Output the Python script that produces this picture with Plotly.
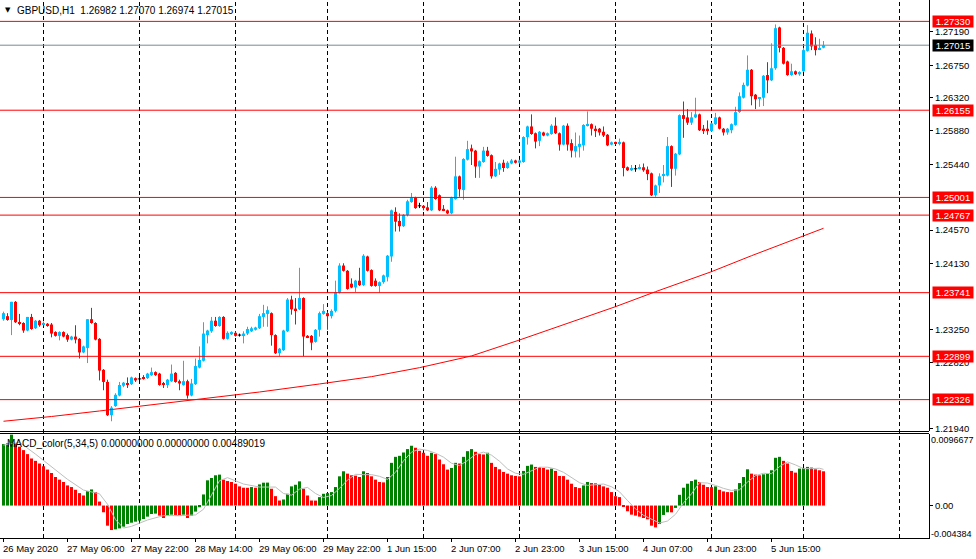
import plotly.graph_objects as go

# ---------------- data (H1 bars, index 0 = 26 May 2020 14:00) ----------------
open_ = [
1.2339, 1.2343, 1.2338, 1.2362, 1.2335, 1.2334, 1.2324, 1.2342, 1.2327, 1.2337,
1.2332, 1.2333, 1.2332, 1.2322, 1.2317, 1.2322, 1.2318, 1.2312, 1.2316, 1.2313,
1.2295, 1.2301, 1.2339, 1.2334, 1.2313, 1.2272, 1.2256, 1.2212, 1.2224, 1.2238,
1.2251, 1.2254, 1.2253, 1.2261, 1.2260, 1.2262, 1.2261, 1.2265, 1.2269, 1.2267,
1.2254, 1.2252, 1.2257, 1.2268, 1.2257, 1.2252, 1.2257, 1.2238, 1.2253, 1.2275,
1.2284, 1.2318, 1.2323, 1.2337, 1.2330, 1.2342, 1.2313, 1.2319, 1.2321, 1.2318,
1.2318, 1.2320, 1.2323, 1.2325, 1.2327, 1.2342, 1.2346, 1.2347, 1.2318, 1.2294,
1.2298, 1.2323, 1.2365, 1.2353, 1.2352, 1.2367, 1.2317, 1.2317, 1.2309, 1.2325,
1.2346, 1.2347, 1.2343, 1.2350, 1.2374, 1.2410, 1.2403, 1.2386, 1.2381, 1.2390,
1.2384, 1.2422, 1.2404, 1.2390, 1.2383, 1.2388, 1.2395, 1.2422, 1.2481, 1.2469,
1.2462, 1.2477, 1.2494, 1.2500, 1.2489, 1.2489, 1.2487, 1.2483, 1.2513, 1.2503,
1.2485, 1.2483, 1.2479, 1.2498, 1.2528, 1.2510, 1.2550, 1.2565, 1.2562, 1.2541,
1.2547, 1.2562, 1.2556, 1.2528, 1.2537, 1.2546, 1.2539, 1.2545, 1.2549, 1.2546,
1.2547, 1.2580, 1.2594, 1.2585, 1.2575, 1.2586, 1.2582, 1.2584, 1.2595, 1.2585,
1.2570, 1.2595, 1.2572, 1.2561, 1.2567, 1.2569, 1.2595, 1.2597, 1.2591, 1.2591,
1.2587, 1.2583, 1.2570, 1.2573, 1.2571, 1.2573, 1.2540, 1.2536, 1.2538, 1.2538,
1.2540, 1.2537, 1.2532, 1.2503, 1.2516, 1.2529, 1.2529, 1.2568, 1.2538, 1.2557,
1.2609, 1.2606, 1.2599, 1.2606, 1.2610, 1.2591, 1.2591, 1.2588, 1.2597, 1.2606,
1.2591, 1.2586, 1.2589, 1.2596, 1.2613, 1.2632, 1.2648, 1.2669, 1.2636, 1.2631,
1.2632, 1.2662, 1.2655, 1.2671, 1.2725, 1.2698, 1.2680, 1.2662, 1.2667, 1.2663,
1.2667, 1.2694, 1.2717, 1.2702, 1.2696, 1.26982]

high = [
1.2349, 1.2347, 1.2362, 1.2363, 1.2346, 1.2335, 1.2342, 1.2346, 1.2338, 1.2338,
1.2336, 1.2334, 1.2334, 1.2323, 1.2323, 1.2323, 1.2320, 1.2317, 1.2331, 1.2314,
1.2304, 1.2339, 1.2354, 1.2335, 1.2314, 1.2273, 1.2259, 1.2224, 1.2241, 1.2256,
1.2256, 1.2262, 1.2263, 1.2262, 1.2263, 1.2265, 1.2268, 1.2275, 1.2270, 1.2268,
1.2256, 1.2260, 1.2279, 1.2269, 1.2259, 1.2284, 1.2259, 1.2260, 1.2287, 1.2303,
1.2335, 1.2325, 1.2342, 1.2342, 1.2343, 1.2343, 1.2323, 1.2323, 1.2323, 1.2320,
1.2323, 1.2329, 1.2329, 1.2329, 1.2346, 1.2358, 1.2356, 1.2348, 1.2319, 1.2301,
1.2325, 1.2367, 1.2370, 1.2367, 1.2407, 1.2368, 1.2318, 1.2318, 1.2326, 1.2349,
1.2359, 1.2349, 1.2352, 1.2390, 1.2413, 1.2413, 1.2404, 1.2393, 1.2391, 1.2407,
1.2425, 1.2423, 1.2405, 1.2393, 1.2389, 1.2398, 1.2424, 1.2484, 1.2487, 1.2479,
1.2478, 1.2497, 1.2506, 1.2501, 1.2493, 1.2490, 1.2494, 1.2515, 1.2515, 1.2504,
1.2490, 1.2484, 1.2501, 1.2554, 1.2529, 1.2552, 1.2575, 1.2570, 1.2563, 1.2549,
1.2567, 1.2567, 1.2557, 1.2547, 1.2546, 1.2550, 1.2548, 1.2551, 1.2550, 1.2550,
1.2581, 1.2595, 1.2610, 1.2586, 1.2588, 1.2587, 1.2586, 1.2597, 1.2606, 1.2586,
1.2596, 1.2598, 1.2577, 1.2586, 1.2582, 1.2597, 1.2614, 1.2598, 1.2595, 1.2592,
1.2594, 1.2584, 1.2574, 1.2574, 1.2578, 1.2574, 1.2541, 1.2543, 1.2543, 1.2544,
1.2545, 1.2541, 1.2533, 1.2517, 1.2532, 1.2543, 1.2580, 1.2569, 1.2559, 1.2610,
1.2627, 1.2617, 1.2613, 1.2632, 1.2611, 1.2596, 1.2602, 1.2599, 1.2612, 1.2607,
1.2592, 1.2592, 1.2598, 1.2620, 1.2639, 1.2652, 1.2688, 1.2670, 1.2637, 1.2633,
1.2662, 1.2679, 1.2704, 1.2729, 1.2726, 1.2699, 1.2681, 1.2677, 1.2668, 1.2667,
1.2698, 1.2728, 1.2721, 1.2712, 1.2710, 1.27070]

low = [
1.2337, 1.2337, 1.2318, 1.2334, 1.2331, 1.2321, 1.2323, 1.2325, 1.2326, 1.2329,
1.2331, 1.2329, 1.2315, 1.2316, 1.2311, 1.2315, 1.2309, 1.2311, 1.2307, 1.2287,
1.2294, 1.2281, 1.2333, 1.2311, 1.2258, 1.2245, 1.2211, 1.2204, 1.2223, 1.2237,
1.2249, 1.2248, 1.2252, 1.2256, 1.2258, 1.2259, 1.2260, 1.2264, 1.2264, 1.2251,
1.2248, 1.2248, 1.2256, 1.2255, 1.2245, 1.2251, 1.2234, 1.2237, 1.2252, 1.2274,
1.2283, 1.2307, 1.2321, 1.2329, 1.2329, 1.2312, 1.2312, 1.2318, 1.2316, 1.2316,
1.2307, 1.2318, 1.2322, 1.2324, 1.2326, 1.2329, 1.2329, 1.2304, 1.2293, 1.2290,
1.2297, 1.2322, 1.2345, 1.2332, 1.2351, 1.2290, 1.2314, 1.2298, 1.2308, 1.2316,
1.2345, 1.2325, 1.2340, 1.2348, 1.2373, 1.2402, 1.2378, 1.2380, 1.2375, 1.2383,
1.2383, 1.2402, 1.2382, 1.2382, 1.2374, 1.2386, 1.2389, 1.2415, 1.2455, 1.2455,
1.2461, 1.2475, 1.2493, 1.2485, 1.2486, 1.2483, 1.2482, 1.2482, 1.2497, 1.2482,
1.2482, 1.2478, 1.2478, 1.2497, 1.2501, 1.2497, 1.2549, 1.2543, 1.2526, 1.2526,
1.2546, 1.2554, 1.2525, 1.2527, 1.2530, 1.2534, 1.2538, 1.2544, 1.2545, 1.2545,
1.2546, 1.2570, 1.2583, 1.2565, 1.2568, 1.2581, 1.2581, 1.2583, 1.2584, 1.2562,
1.2569, 1.2562, 1.2553, 1.2553, 1.2553, 1.2562, 1.2594, 1.2582, 1.2580, 1.2582,
1.2580, 1.2568, 1.2569, 1.2570, 1.2569, 1.2528, 1.2535, 1.2535, 1.2534, 1.2537,
1.2534, 1.2523, 1.2502, 1.2501, 1.2506, 1.2520, 1.2528, 1.2514, 1.2529, 1.2556,
1.2579, 1.2596, 1.2596, 1.2605, 1.2588, 1.2584, 1.2583, 1.2587, 1.2596, 1.2590,
1.2582, 1.2583, 1.2585, 1.2595, 1.2612, 1.2631, 1.2647, 1.2622, 1.2617, 1.2620,
1.2621, 1.2638, 1.2654, 1.2669, 1.2692, 1.2676, 1.2661, 1.2661, 1.2662, 1.2661,
1.2666, 1.2693, 1.2695, 1.2688, 1.2695, 1.26974]

close = [
1.2347, 1.2338, 1.2362, 1.2335, 1.2333, 1.2324, 1.2342, 1.2326, 1.2337, 1.2331,
1.2333, 1.2331, 1.2320, 1.2317, 1.2322, 1.2316, 1.2312, 1.2316, 1.2312, 1.2295,
1.2303, 1.2339, 1.2334, 1.2312, 1.2271, 1.2256, 1.2212, 1.2222, 1.2239, 1.2252,
1.2255, 1.2253, 1.2262, 1.2258, 1.2260, 1.2261, 1.2267, 1.2269, 1.2265, 1.2252,
1.2253, 1.2259, 1.2267, 1.2256, 1.2254, 1.2257, 1.2238, 1.2254, 1.2277, 1.2285,
1.2320, 1.2324, 1.2337, 1.2330, 1.2342, 1.2313, 1.2321, 1.2322, 1.2317, 1.2318,
1.2320, 1.2326, 1.2327, 1.2328, 1.2343, 1.2347, 1.2351, 1.2318, 1.2294, 1.2300,
1.2324, 1.2365, 1.2352, 1.2351, 1.2367, 1.2316, 1.2315, 1.2308, 1.2325, 1.2347,
1.2350, 1.2343, 1.2350, 1.2375, 1.2410, 1.2403, 1.2379, 1.2381, 1.2390, 1.2384,
1.2423, 1.2403, 1.2383, 1.2383, 1.2388, 1.2397, 1.2423, 1.2483, 1.2468, 1.2462,
1.2477, 1.2495, 1.2500, 1.2486, 1.2489, 1.2486, 1.2483, 1.2513, 1.2498, 1.2483,
1.2483, 1.2479, 1.2500, 1.2528, 1.2511, 1.2551, 1.2564, 1.2561, 1.2541, 1.2548,
1.2562, 1.2555, 1.2528, 1.2538, 1.2545, 1.2539, 1.2546, 1.2549, 1.2546, 1.2549,
1.2580, 1.2594, 1.2584, 1.2574, 1.2587, 1.2582, 1.2585, 1.2595, 1.2585, 1.2570,
1.2595, 1.2570, 1.2562, 1.2568, 1.2571, 1.2596, 1.2597, 1.2591, 1.2589, 1.2586,
1.2582, 1.2569, 1.2573, 1.2571, 1.2573, 1.2539, 1.2536, 1.2539, 1.2538, 1.2540,
1.2536, 1.2531, 1.2503, 1.2516, 1.2528, 1.2531, 1.2568, 1.2538, 1.2558, 1.2609,
1.2604, 1.2599, 1.2606, 1.2610, 1.2589, 1.2588, 1.2588, 1.2598, 1.2606, 1.2591,
1.2586, 1.2591, 1.2597, 1.2613, 1.2634, 1.2649, 1.2669, 1.2634, 1.2630, 1.2632,
1.2661, 1.2655, 1.2671, 1.2724, 1.2698, 1.2677, 1.2662, 1.2667, 1.2663, 1.2666,
1.2695, 1.2718, 1.2700, 1.2695, 1.2698, 1.27015]

# moving average (red curve), read at selected bars
ma_bars = [0, 12, 24, 36, 48, 64, 79, 92, 104, 117, 129, 142, 153, 163, 177, 187, 200, 205]
ma_values = [1.22040, 1.22103, 1.22176, 1.22249, 1.22326, 1.22427, 1.22533, 1.22630, 1.22749,
             1.22904, 1.23115, 1.23357, 1.23556, 1.23754, 1.24019, 1.24230, 1.24495, 1.24593]

# MACD_color(5,34,5) histogram, one value per bar
macd = [
0.00831, 0.00840, 0.00958, 0.00840, 0.00795, 0.00749, 0.00695, 0.00636, 0.00604, 0.00568,
0.00531, 0.00486, 0.00440, 0.00386, 0.00350, 0.00318, 0.00272, 0.00250, 0.00213, 0.00168,
0.00136, 0.00195, 0.00218, 0.00182, 0.00054, -0.00091, -0.00272, -0.00331, -0.00322, -0.00309,
-0.00286, -0.00250, -0.00232, -0.00218, -0.00204, -0.00182, -0.00150, -0.00114, -0.00109, -0.00136,
-0.00168, -0.00136, -0.00123, -0.00127, -0.00128, -0.00123, -0.00168, -0.00136, -0.00082, -0.00023,
0.00150, 0.00341, 0.00372, 0.00409, 0.00418, 0.00350, 0.00331, 0.00318, 0.00295, 0.00259,
0.00241, 0.00240, 0.00250, 0.00241, 0.00286, 0.00309, 0.00310, 0.00227, 0.00127, 0.00068,
0.00082, 0.00159, 0.00259, 0.00281, 0.00327, 0.00227, 0.00136, 0.00068, 0.00067, 0.00114,
0.00159, 0.00168, 0.00182, 0.00250, 0.00395, 0.00463, 0.00431, 0.00409, 0.00404, 0.00386,
0.00463, 0.00440, 0.00395, 0.00350, 0.00318, 0.00313, 0.00386, 0.00577, 0.00658, 0.00672,
0.00717, 0.00763, 0.00808, 0.00781, 0.00740, 0.00713, 0.00672, 0.00713, 0.00695, 0.00622,
0.00558, 0.00486, 0.00508, 0.00577, 0.00568, 0.00658, 0.00735, 0.00763, 0.00726, 0.00695,
0.00690, 0.00713, 0.00577, 0.00522, 0.00490, 0.00454, 0.00431, 0.00409, 0.00400, 0.00395,
0.00468, 0.00536, 0.00554, 0.00522, 0.00518, 0.00508, 0.00486, 0.00499, 0.00468, 0.00400,
0.00398, 0.00350, 0.00295, 0.00250, 0.00236, 0.00272, 0.00318, 0.00304, 0.00300, 0.00281,
0.00259, 0.00241, 0.00182, 0.00127, 0.00114, -0.00009, -0.00077, -0.00123, -0.00136, -0.00150,
-0.00168, -0.00186, -0.00272, -0.00295, -0.00250, -0.00127, -0.00091, -0.00092, -0.00032, 0.00145,
0.00241, 0.00295, 0.00331, 0.00350, 0.00318, 0.00281, 0.00250, 0.00249, 0.00259, 0.00213,
0.00191, 0.00182, 0.00181, 0.00218, 0.00304, 0.00386, 0.00490, 0.00431, 0.00418, 0.00409,
0.00422, 0.00431, 0.00477, 0.00645, 0.00658, 0.00604, 0.00568, 0.00468, 0.00445, 0.00499,
0.00508, 0.00522, 0.00513, 0.00490, 0.00477, 0.00463]

# signal (grey) line, read at selected bars
signal_bars = [0, 2, 4, 8, 12, 16, 20, 22, 24, 26, 28, 30, 32, 36, 40, 44, 48, 50, 52, 54,
               56, 60, 64, 68, 70, 72, 74, 76, 78, 80] + list(range(82, 205, 2)) + [205]
signal_values = [
0.00817, 0.00840, 0.00854, 0.00695, 0.00527, 0.00354, 0.00209, 0.00186, 0.00159, 0.00018,
-0.00191, -0.00304, -0.00281, -0.00195, -0.00136, -0.00136, -0.00127, -0.00050, 0.00150, 0.00336,
0.00377, 0.00291, 0.00250, 0.00250, 0.00163, 0.00141, 0.00222, 0.00245, 0.00163, 0.00109,
0.00136, 0.00232, 0.00345, 0.00422, 0.00418, 0.00418, 0.00395, 0.00354, 0.00449, 0.00604,
0.00722, 0.00763, 0.00745, 0.00708, 0.00654, 0.00572, 0.00540, 0.00608, 0.00690, 0.00722,
0.00681, 0.00599, 0.00495, 0.00436, 0.00422, 0.00472, 0.00518, 0.00518, 0.00495, 0.00449,
0.00381, 0.00309, 0.00272, 0.00286, 0.00291, 0.00254, 0.00186, 0.00068, -0.00045, -0.00132,
-0.00182, -0.00236, -0.00209, -0.00118, 0.00036, 0.00159, 0.00309, 0.00304, 0.00272, 0.00232,
0.00204, 0.00213, 0.00318, 0.00404, 0.00436, 0.00431, 0.00527, 0.00590, 0.00549, 0.00499,
0.00499, 0.00504, 0.00489]

level_prices = [1.27330, 1.26155, 1.25001, 1.24767, 1.23741, 1.22899, 1.22326]
current_price = 1.27015
price_ticks = [1.27190, 1.26750, 1.26320, 1.25880, 1.25440, 1.24570, 1.24130,
               1.23250, 1.22820, 1.21940]
macd_top, macd_bottom = 0.0096677, -0.004384
macd_header_values = [0.0, 0.0, 0.00489019]

time_label_bars = [0, 16, 32, 48, 64, 80, 96, 112, 128, 144, 160, 176, 192]
time_labels = ["26 May 2020", "27 May 06:00", "27 May 22:00", "28 May 14:00", "29 May 06:00",
               "29 May 22:00", "1 Jun 15:00", "2 Jun 07:00", "2 Jun 23:00", "3 Jun 15:00",
               "4 Jun 07:00", "4 Jun 23:00", "5 Jun 15:00"]
day_separator_bars = [10, 34, 58, 81, 105, 129, 153, 177, 200, 224]

# ---------------- styling ----------------
BULL = "#00BFFF"
BEAR = "#FF0000"
DOJI = "#000000"
FONT = "Liberation Sans"
FS = 9.5

n = len(close)
idx = list(range(n))

fig = go.Figure()

groups = {BULL: [], BEAR: [], DOJI: []}
for i in idx:
    if close[i] > open_[i]:
        groups[BULL].append(i)
    elif close[i] < open_[i]:
        groups[BEAR].append(i)
    else:
        groups[DOJI].append(i)

# wicks
for col, members in groups.items():
    wx, wy = [], []
    for i in members:
        wx += [i, i, None]
        wy += [low[i], high[i], None]
    fig.add_trace(go.Scatter(x=wx, y=wy, mode="lines", line=dict(color=col, width=1),
                             hoverinfo="skip", yaxis="y"))

# bodies
for col in (BULL, BEAR):
    members = groups[col]
    fig.add_trace(go.Bar(
        x=members,
        y=[abs(close[i] - open_[i]) for i in members],
        base=[min(open_[i], close[i]) for i in members],
        width=0.75, marker=dict(color=col, line=dict(width=0)),
        yaxis="y", hoverinfo="skip"))

# doji bodies
dx, dy = [], []
for i in groups[DOJI]:
    dx += [i - 0.45, i + 0.45, None]
    dy += [open_[i], open_[i], None]
fig.add_trace(go.Scatter(x=dx, y=dy, mode="lines", line=dict(color=DOJI, width=1),
                         hoverinfo="skip", yaxis="y"))

# moving average
fig.add_trace(go.Scatter(x=ma_bars, y=ma_values, mode="lines",
                         line=dict(color="#FF0000", width=1), yaxis="y", hoverinfo="skip"))

# MACD histogram
macd_colors = ["#008000" if (i == 0 or macd[i] > macd[i - 1]) else "#FF0000" for i in idx]
fig.add_trace(go.Bar(x=idx, y=macd, width=0.75, marker=dict(color=macd_colors, line=dict(width=0)),
                     yaxis="y2", hoverinfo="skip"))
fig.add_trace(go.Scatter(x=signal_bars, y=signal_values, mode="lines",
                         line=dict(color="#BEBEBE", width=1), yaxis="y2", hoverinfo="skip"))

# ---------------- geometry ----------------
PLOT_H = 538.0
price_bottom_px = 431.0
macd_top_px = 434.0
price_dom = [1 - price_bottom_px / PLOT_H, 1]
macd_dom = [0, (PLOT_H - macd_top_px) / PLOT_H]
price_range = [1.21911, 1.27613]

shapes = []
for b in day_separator_bars:
    shapes.append(dict(type="line", xref="x", yref="paper", x0=b, x1=b, y0=0, y1=1,
                       line=dict(color="black", width=1, dash="4px,3px"), layer="below"))
for p in level_prices:
    shapes.append(dict(type="line", xref="paper", yref="y", x0=0, x1=1, y0=p, y1=p,
                       line=dict(color="#FF0000", width=1), layer="above"))
shapes.append(dict(type="line", xref="paper", yref="y", x0=0, x1=1, y0=current_price, y1=current_price,
                   line=dict(color="#778899", width=1), layer="above"))
for py in (431.5, 433.5):
    yy = (PLOT_H - py) / PLOT_H
    shapes.append(dict(type="line", xref="paper", yref="paper", x0=0, x1=1, y0=yy, y1=yy,
                       line=dict(color="black", width=1), layer="above"))

annotations = []
for p in level_prices:
    annotations.append(dict(xref="paper", yref="y", x=1, y=p, xanchor="left", yanchor="middle",
                            xshift=3, text=f"{p:.5f}", showarrow=False, bgcolor="#FF0000",
                            font=dict(color="white", size=FS, family=FONT), width=40, height=11,
                            borderpad=0, align="center"))
annotations.append(dict(xref="paper", yref="y", x=1, y=current_price, xanchor="left", yanchor="middle",
                        xshift=3, text=f"{current_price:.5f}", showarrow=False, bgcolor="#000000",
                        font=dict(color="white", size=FS, family=FONT), width=40, height=11,
                        borderpad=0, align="center"))
# bottom time labels, left-aligned at their bar like the terminal draws them
for b, lab in zip(time_label_bars, time_labels):
    annotations.append(dict(xref="x", yref="paper", x=b, y=0, xanchor="left", yanchor="top",
                            xshift=-3, yshift=-3, text=lab, showarrow=False,
                            font=dict(color="black", size=FS, family=FONT)))
# title
annotations.append(dict(xref="paper", yref="paper", x=0, y=1, xanchor="left", yanchor="top",
                        xshift=3, yshift=-4, text="▼", showarrow=False,
                        font=dict(color="black", size=7, family="DejaVu Sans")))
title = (f"GBPUSD,H1\u00a0\u00a0{open_[-1]:.5f} {high[-1]:.5f} {low[-1]:.5f} {close[-1]:.5f}")
annotations.append(dict(xref="paper", yref="paper", x=0, y=1, xanchor="left", yanchor="top",
                        xshift=15, yshift=-3, text=title, showarrow=False,
                        font=dict(color="black", size=FS + 0.5, family=FONT)))
macd_title = "MACD_color(5,34,5) " + " ".join(f"{v:.8f}" for v in macd_header_values)
annotations.append(dict(xref="paper", yref="y2 domain", x=0, y=1, xanchor="left", yanchor="top",
                        xshift=5, yshift=-2, text=macd_title, showarrow=False,
                        font=dict(color="black", size=FS + 0.5, family=FONT)))
# MACD scale extremes
annotations.append(dict(xref="paper", yref="y2", x=1, y=macd_top, xanchor="left", yanchor="top",
                        xshift=1, text=f"{macd_top:.7f}", showarrow=False, borderpad=0,
                        font=dict(color="black", size=9, family=FONT)))
annotations.append(dict(xref="paper", yref="y2", x=1, y=macd_bottom, xanchor="left", yanchor="bottom",
                        xshift=1, yshift=-2, text=f"{macd_bottom:.6f}", showarrow=False, borderpad=0,
                        font=dict(color="black", size=9, family=FONT)))

fig.update_layout(
    width=976, height=559,
    margin=dict(l=0, r=47, t=0, b=21, pad=0),
    paper_bgcolor="white", plot_bgcolor="white",
    showlegend=False, barmode="overlay",
    font=dict(family=FONT, size=FS, color="black"),
    xaxis=dict(range=[-0.875, 231.375], anchor="y2", showgrid=False, zeroline=False,
               showline=True, linecolor="black", linewidth=1,
               tickmode="array", tickvals=time_label_bars, showticklabels=False,
               ticks="outside", ticklen=3, tickcolor="black", automargin=False),
    yaxis=dict(domain=price_dom, range=price_range, side="right", anchor="x",
               showgrid=False, zeroline=False, showline=True, linecolor="black", linewidth=1,
               tickmode="array", tickvals=price_ticks, ticktext=[f"{t:.5f}" for t in price_ticks],
               ticks="outside", ticklen=3, tickcolor="black",
               tickfont=dict(size=FS, family=FONT, color="black"), automargin=False),
    yaxis2=dict(domain=macd_dom, range=[macd_bottom, macd_top], side="right", anchor="x",
                showgrid=False, zeroline=False, showline=True, linecolor="black", linewidth=1,
                tickmode="array", tickvals=[0], ticktext=["0.00"],
                ticks="outside", ticklen=3, tickcolor="black",
                tickfont=dict(size=FS, family=FONT, color="black"), automargin=False),
    shapes=shapes, annotations=annotations,
)

fig.write_html("out.html")
